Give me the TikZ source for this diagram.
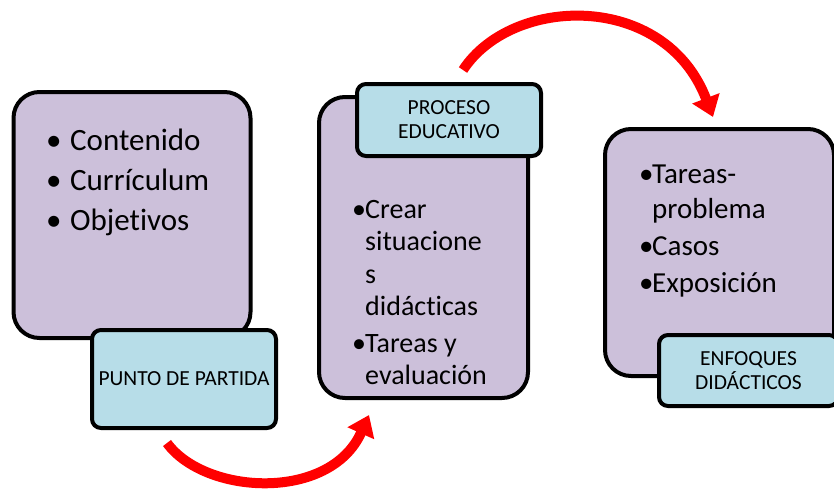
\documentclass[tikz,border=0pt]{standalone}
\usepackage{fontspec}
\setmainfont{Carlito}[Ligatures=NoCommon]
\usetikzlibrary{arrows.meta}

\definecolor{lila}{RGB}{204,192,218}
\definecolor{celeste}{RGB}{183,221,232}

\newcommand\vin{\makebox[24pt][l]{•}}
\newcommand\vi{\makebox[13pt][l]{•}}
\newcommand\sang{\hspace{13pt}}

\begin{document}
\begin{tikzpicture}[x=1pt, y=-1pt,
  caja/.style={draw, line width=4pt, fill=lila, rounded corners=26pt},
  etiqueta/.style={draw, line width=4pt, fill=celeste, rounded corners=9pt,
    align=center, font=\fontsize{21.5}{24}\selectfont},
  lista/.style={anchor=base west, inner sep=0pt},
  flecha/.style={draw=red, line width=10pt,
    -{Triangle[length=20pt, width=28pt]}}]

  \useasboundingbox (0,0) rectangle (834,490);

  %% cajas lilas
  \node[caja, minimum width=237pt, minimum height=246pt] (partida) at (132,215) {};
  \node[caja, minimum width=209pt, minimum height=301pt] (proceso) at (423.5,247.5) {};
  \node[caja, minimum width=229pt, minimum height=247pt] (enfoques) at (719.5,252.5) {};

  %% etiquetas
  \node[etiqueta, minimum width=184pt, minimum height=98pt] (etqpartida) at (184,379)
    {PUNTO DE PARTIDA};
  \node[etiqueta, minimum width=184pt, minimum height=72pt] (etqproceso) at (449,120)
    {PROCESO\\EDUCATIVO};
  \node[etiqueta, minimum width=179pt, minimum height=71pt] (etqenfoques) at (748.5,370.5)
    {ENFOQUES\\DIDÁCTICOS};

  %% textos
  \node[lista, font=\fontsize{31}{40}\selectfont] (txtpartida) at (46,150)
    {\begin{tabular}[t]{@{}l@{}}
      \vin Contenido\\
      \vin Currículum\\
      \vin Objetivos
    \end{tabular}};
  \node[lista, font=\fontsize{28}{32.5}\selectfont] (txtproceso) at (352,218)
    {\begin{tabular}[t]{@{}l@{}}
      \vi Crear\\
      \sang situacione\\
      \sang s\\
      \sang didácticas\\[4pt]
      \vi Tareas y\\
      \sang evaluación
    \end{tabular}};
  \node[lista, font=\fontsize{29}{35}\selectfont] (txtenfoques) at (639,183)
    {\begin{tabular}[t]{@{}l@{}}
      \vi Tareas-\\
      \sang problema\\[2pt]
      \vi Casos\\[2pt]
      \vi Exposición
    \end{tabular}};

  %% flechas
  \coordinate (ini1) at (167,443);
  \coordinate (fin1) at (369,415);
  \coordinate (ini2) at (463,70);
  \coordinate (fin2) at (713,117);

  \draw[flecha] (ini1) .. controls (205,495) and (330,502) .. (fin1);
  \draw[flecha] (ini2) .. controls (512,-5) and (665,-9) .. (fin2);

\end{tikzpicture}
\end{document}
